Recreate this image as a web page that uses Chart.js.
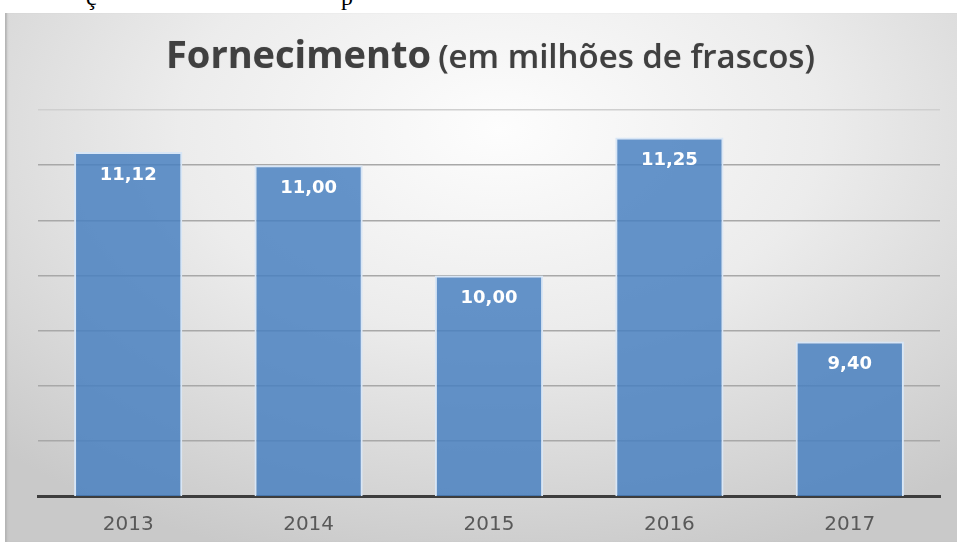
<!DOCTYPE html>
<html>
<head>
<meta charset="utf-8">
<script src="https://cdn.jsdelivr.net/npm/chart.js@4.4.0/dist/chart.umd.min.js"></script>
<style>
  body { margin: 0; background: #fff; width: 957px; height: 542px; position: relative; overflow: hidden; }
  #caption { position: absolute; left: 0; top: 0; width: 957px; height: 13px; overflow: hidden; }
  #caption span { position: absolute; top: -15px; font: 24px/24px "Liberation Serif", serif; color: #000; }
  #box {
    position: absolute; left: 5px; top: 13px; width: 952px; height: 529px;
    background: radial-gradient(ellipse 75% 85% at 52% 22%, #fdfdfd 0%, #ececec 45%, #d6d6d6 80%, #c9c9c9 100%);
    box-shadow: inset 3px 0 2px -1px #b5b5b5;
  }
  #title {
    position: absolute; left: 161px; top: 14px; white-space: nowrap;
    font-family: "Open Sans", Lato, sans-serif; color: #404040;
    text-shadow: 0 0 1px rgba(0,0,0,0.25);
  }
  #title .big { font-size: 38px; font-weight: 700; }
  #title .small { font-size: 33px; font-weight: 600; margin-left: 3px; }
  canvas { position: absolute; left: 0; top: 0; }
</style>
</head>
<body>
<div id="caption"><span style="left:86px">ç</span><span style="left:341px">p</span></div>
<div id="box">
  <canvas id="chart" width="952" height="529"></canvas>
  <div id="title"><span class="big">Fornecimento</span> <span class="small">(em milhões de frascos)</span></div>
</div>
<script>
// fornecimento anual, milhões de frascos
const years = ["2013", "2014", "2015", "2016", "2017"];
const supply = [11.12, 11.00, 10.00, 11.25, 9.40];
const yMin = 8;
const yMax = 11.5;
const yStep = 0.5;

const fmt = (v) => v.toFixed(2).replace(".", ",");

// rótulos brancos dentro do topo das barras
const barLabels = {
  id: "barLabels",
  afterDatasetsDraw(chart) {
    const ctx = chart.ctx;
    const meta = chart.getDatasetMeta(0);
    ctx.save();
    ctx.fillStyle = "#ffffff";
    ctx.font = "bold 18px 'DejaVu Sans', sans-serif";
    ctx.textAlign = "center";
    ctx.textBaseline = "middle";
    meta.data.forEach((bar, i) => {
      ctx.fillText(fmt(supply[i]), bar.x, bar.y + 23);
    });
    ctx.restore();
  }
};

new Chart(document.getElementById("chart"), {
  type: "bar",
  data: {
    labels: years,
    datasets: [{
      data: supply,
      backgroundColor: "rgba(72,128,192,0.84)",
      borderColor: "#d8e6f6",
      borderWidth: 2,
      barPercentage: 0.6,
      categoryPercentage: 1
    }]
  },
  options: {
    responsive: false,
    animation: false,
    layout: { padding: { left: 33, right: 17, top: 97, bottom: -12 } },
    plugins: { legend: { display: false }, tooltip: { enabled: false } },
    scales: {
      x: {
        grid: { display: false, drawTicks: false },
        border: { display: true, color: "#3d3d3d", width: 3 },
        ticks: {
          color: "#595959",
          padding: 17,
          font: { family: "'DejaVu Sans', sans-serif", size: 20 }
        }
      },
      y: {
        min: yMin,
        max: yMax,
        ticks: { display: false, stepSize: yStep },
        border: { display: false },
        grid: {
          drawTicks: false,
          lineWidth: 1.5,
          color: (c) => c.tick && c.tick.value === yMax ? "#cfcfcf" : (c.tick && c.tick.value === yMin ? "rgba(0,0,0,0)" : "#a8a8a8")
        }
      }
    }
  },
  plugins: [barLabels]
});
</script>
</body>
</html>
